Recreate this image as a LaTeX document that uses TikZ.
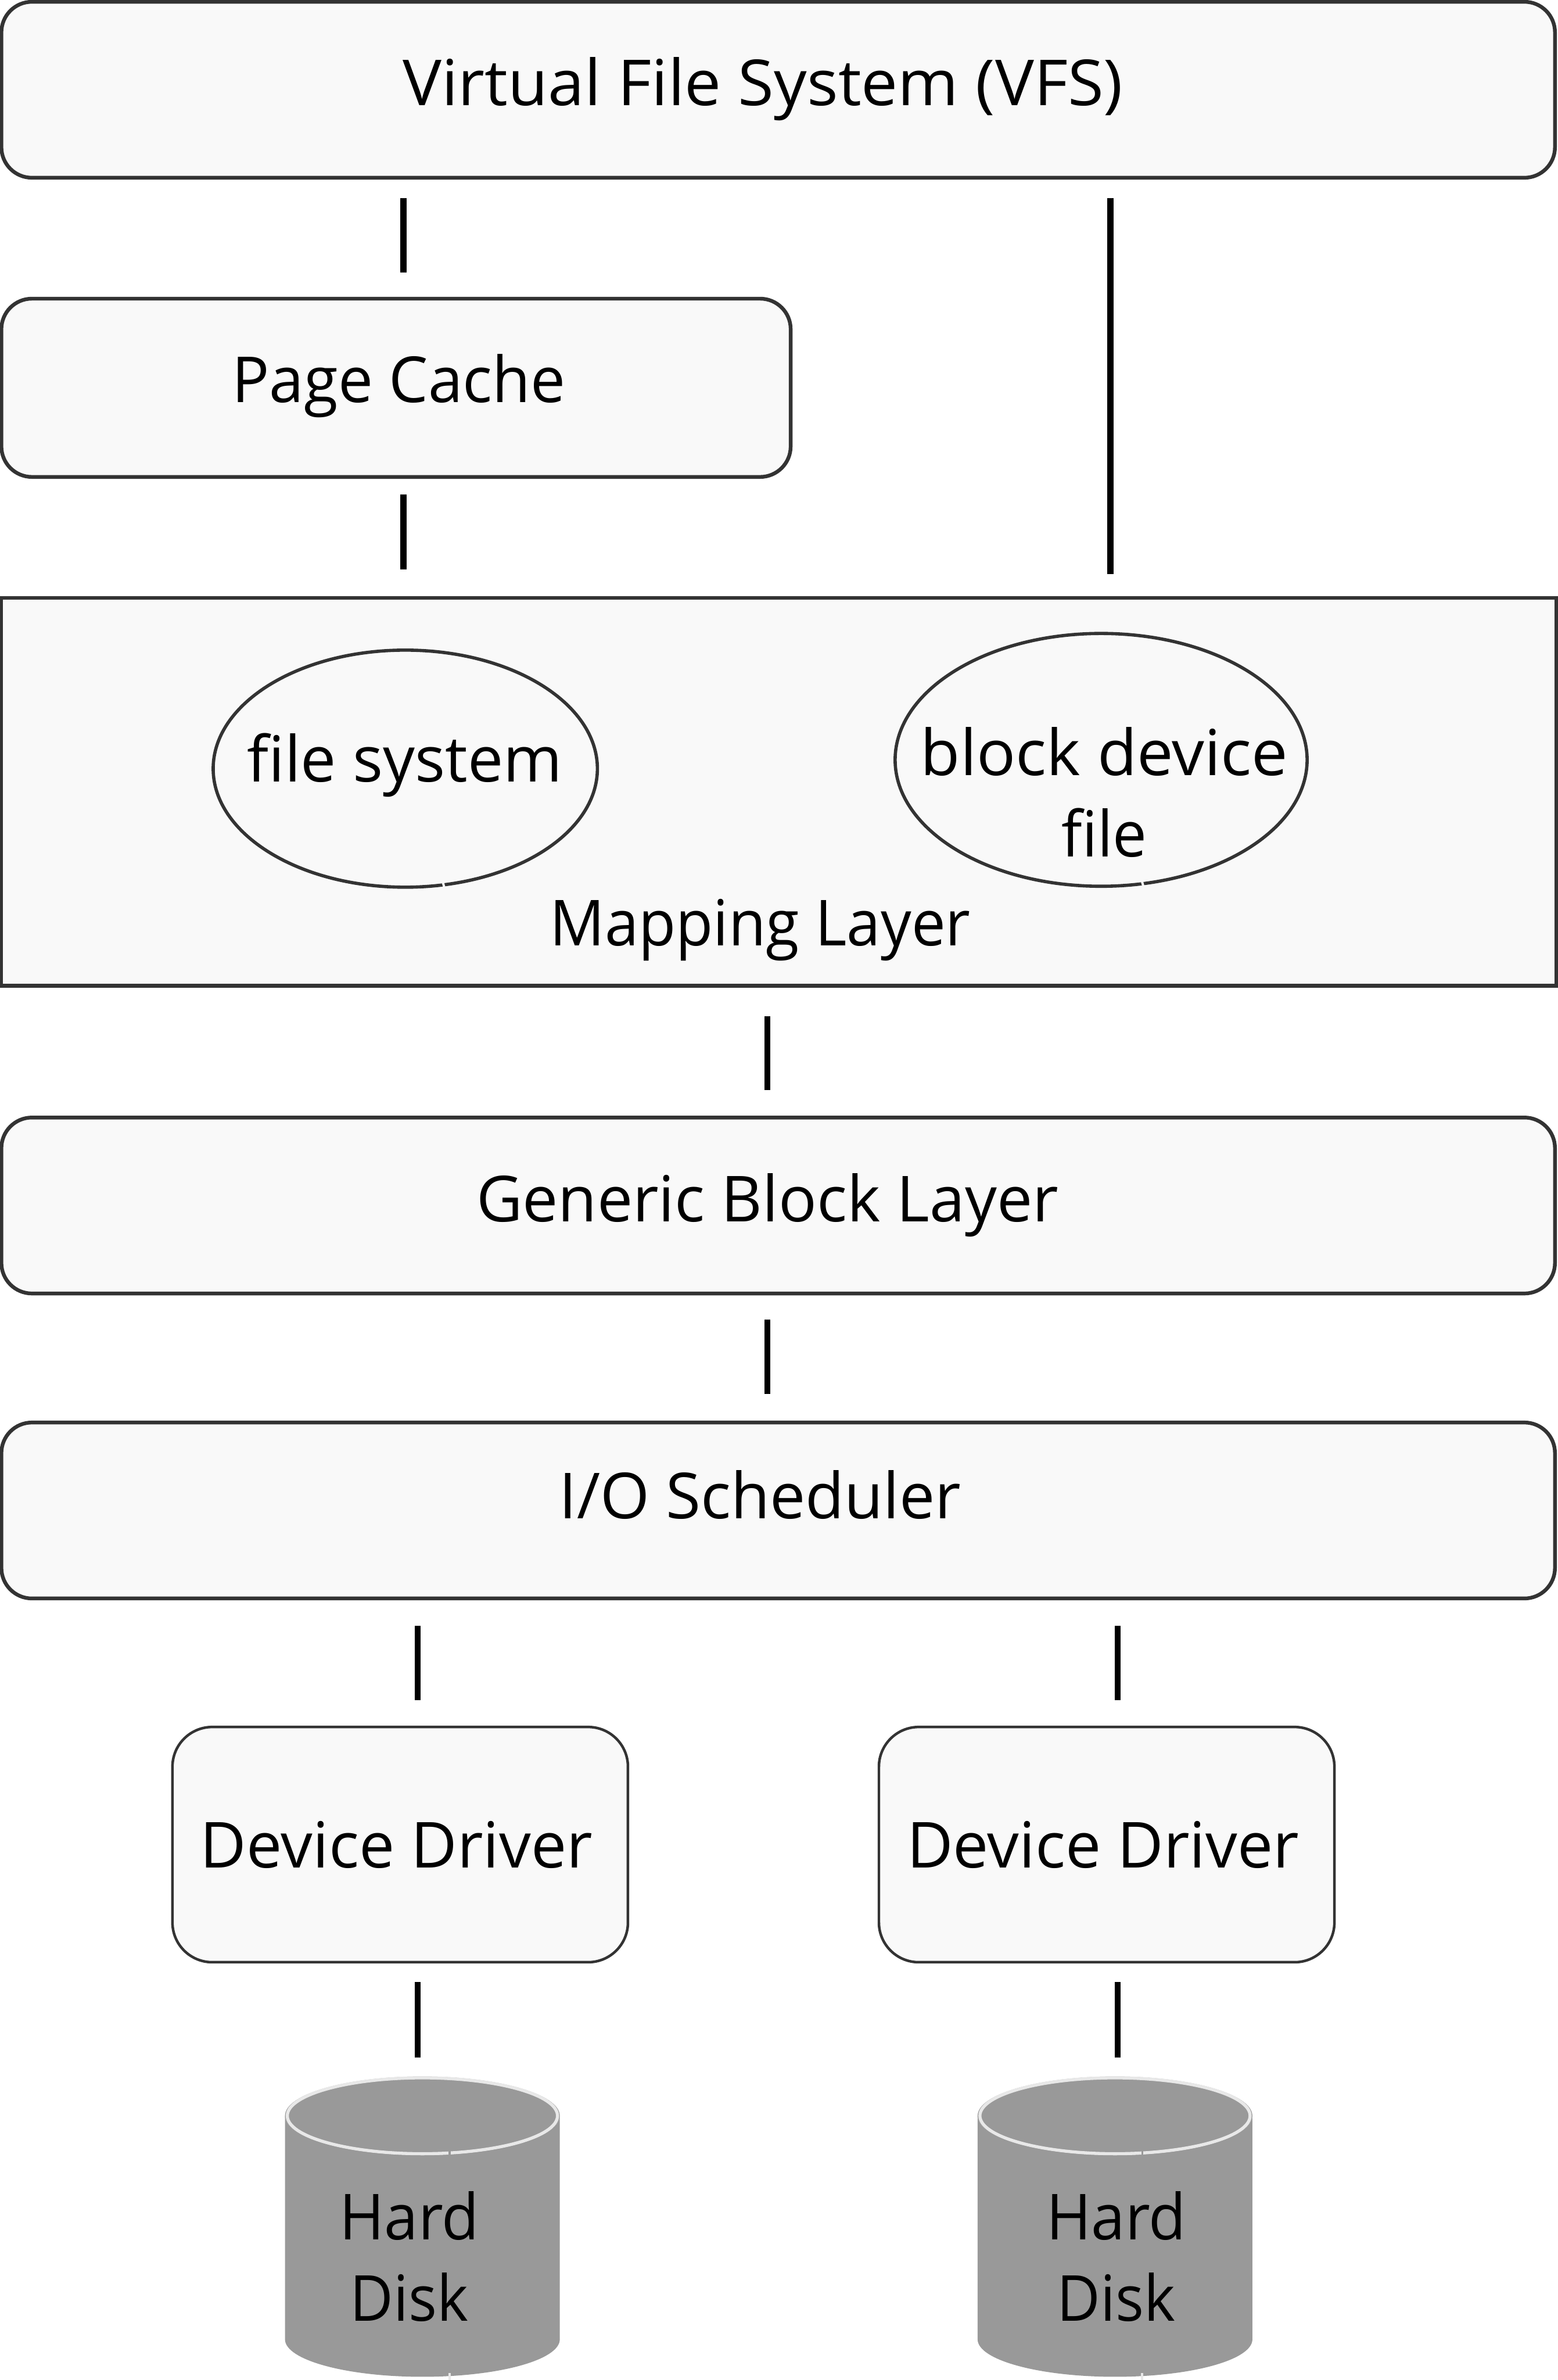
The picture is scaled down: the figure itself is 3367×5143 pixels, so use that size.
\documentclass[tikz,border=0pt]{standalone}
\usepackage{fontspec}
\usepackage{graphicx}
\setmainfont{Open Sans}
\usetikzlibrary{shapes.geometric}
\definecolor{boxfill}{HTML}{F9F9F9}
\definecolor{boxline}{HTML}{333333}
\definecolor{diskfill}{HTML}{999999}
\definecolor{diskline}{HTML}{E8E8E8}
\newcommand{\fitw}[2]{\scalebox{#1}[1]{#2}}
\tikzset{
  box/.style={draw=boxline,fill=boxfill,line width=2.3pt,rounded corners=0.66cm,outer sep=0pt,inner sep=0pt},
  drvbox/.style={box,line width=1.6pt,rounded corners=0.86cm},
  plainbox/.style={box,rounded corners=0pt},
  oval/.style={ellipse,draw=boxline,fill=boxfill,line width=2pt,outer sep=0pt,inner sep=0pt},
  lbl/.style={anchor=base,inner sep=0pt,outer sep=0pt,font=\fontsize{39}{47}\selectfont,align=center},
  link/.style={line width=3.7pt,black},
  oval gap/.style={boxfill,line width=1.4pt},
  disk body/.style={fill=diskfill,draw=none},
  disk rim/.style={draw=diskline,line width=1.9pt},
}
\begin{document}
\begin{tikzpicture}[x=0.01cm,y=-0.01cm]
\useasboundingbox (0,0) rectangle (3367,5143);
% boxes
\node[box,minimum width=33.56cm,minimum height=3.80cm] (vfs) at (1682,194) {};
\node[lbl] (vfst) at (1649,228) {\fitw{1.03}{Virtual File System (VFS)}};
\node[box,minimum width=17.05cm,minimum height=3.85cm] (pc) at (856,838) {};
\node[lbl] (pct) at (862,870) {\fitw{0.98}{Page Cache}};
\node[plainbox,minimum width=33.59cm,minimum height=8.38cm] (map) at (1683,1711) {};
\node[lbl] (mapt) at (1643,2043) {\fitw{0.96}{Mapping Layer}};
\node[oval,minimum width=8.30cm,minimum height=5.12cm] (fs) at (876,1661) {};
\node[lbl] (fst) at (875,1690) {file system};
\node[oval,minimum width=8.90cm,minimum height=5.46cm] (bd) at (2380,1642) {};
\node[lbl] (bdt) at (2387,1675) {\fitw{1.02}{block device}};
\node[lbl] (bdt2) at (2387,1852) {\fitw{0.96}{file}};
\node[box,minimum width=33.56cm,minimum height=3.80cm] (gb) at (1682,2605) {};
\node[lbl] (gbt) at (1659,2640) {Generic Block Layer};
\node[box,minimum width=33.56cm,minimum height=3.80cm] (io) at (1682,3264) {};
\node[lbl] (iot) at (1643,3281) {I/O Scheduler};
\node[drvbox,minimum width=9.84cm,minimum height=5.08cm] (dd1) at (865,3986) {};
\node[lbl] (dd1t) at (857,4036) {Device Driver};
\node[drvbox,minimum width=9.84cm,minimum height=5.08cm] (dd2) at (2392,3986) {};
\node[lbl] (dd2t) at (2384,4036) {Device Driver};
% gaps in the ovals
\draw[oval gap] (956,1902) -- (962,1924);
\draw[oval gap] (2466,1896) -- (2472,1918);
% disks
\foreach \n/\cx in {a/913,b/2410}{
  \fill[disk body] (\cx-297,4572) arc[start angle=180,end angle=360,x radius=297,y radius=-85]
    -- (\cx+297,5055) arc[start angle=0,end angle=180,x radius=297,y radius=81] -- cycle;
  \fill[disk body] (\cx,4572) ellipse[x radius=297,y radius=85];
  \draw[disk rim] (\cx,4572) ellipse[x radius=292,y radius=82];
  \draw[diskfill,line width=1.2pt] (\cx+59,4644) -- (\cx+59,4664);
  \draw[diskline,line width=1.4pt] (\cx+59,5128) -- (\cx+59,5143);
}
\node[lbl] (h1) at (885,4840) {\fitw{0.96}{Hard}};
\node[lbl] (k1) at (885,5016) {\fitw{0.94}{Disk}};
\node[lbl] (h2) at (2413,4840) {\fitw{0.96}{Hard}};
\node[lbl] (k2) at (2413,5016) {\fitw{0.94}{Disk}};
% connector ends
\coordinate (a1) at (872,428);  \coordinate (a2) at (872,589);
\coordinate (b1) at (872,1069); \coordinate (b2) at (872,1231);
\coordinate (c1) at (2400,428); \coordinate (c2) at (2400,1240);
\coordinate (d1) at (1659,2196);\coordinate (d2) at (1659,2356);
\coordinate (e1) at (1659,2852);\coordinate (e2) at (1659,3012);
\coordinate (f1) at (903,3513); \coordinate (f2) at (903,3674);
\coordinate (g1) at (2416,3513);\coordinate (g2) at (2416,3674);
\coordinate (h1c) at (903,4283); \coordinate (h2c) at (903,4446);
\coordinate (i1) at (2416,4283);\coordinate (i2) at (2416,4446);
\foreach \p/\q in {a1/a2,b1/b2,c1/c2,d1/d2,e1/e2,f1/f2,g1/g2,h1c/h2c,i1/i2}
  \draw[link] (\p) -- (\q);
\end{tikzpicture}
\end{document}
